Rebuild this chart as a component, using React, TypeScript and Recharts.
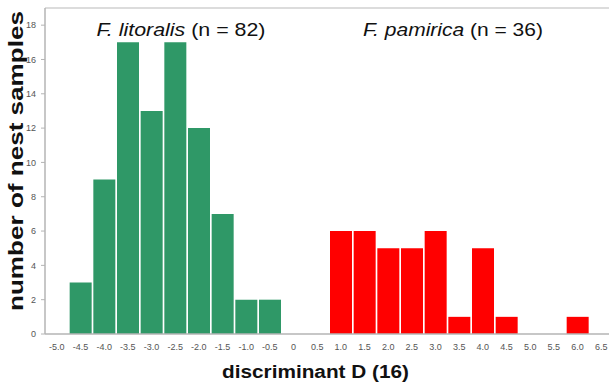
import React from 'react';
import { BarChart, Bar, XAxis, YAxis, ReferenceLine } from 'recharts';

const categories = ["-5.0","-4.5","-4.0","-3.5","-3.0","-2.5","-2.0","-1.5","-1.0","-0.5","0","0.5","1.0","1.5","2.0","2.5","3.0","3.5","4.0","4.5","5.0","5.5","6.0","6.5"];
const litoralisCounts = [0,3,9,17,13,17,12,7,2,2,0,0,0,0,0,0,0,0,0,0,0,0,0,0];
const pamiricaCounts = [0,0,0,0,0,0,0,0,0,0,0,0,6,6,5,5,6,1,5,1,0,0,1,0];
const yTicks = [0,2,4,6,8,10,12,14,16,18];

const data = categories.map((c, i) => ({ d: c, litoralis: litoralisCounts[i], pamirica: pamiricaCounts[i] }));

const FONT = "'Liberation Sans', Arial, sans-serif";
const GREEN = "#2f9867";
const RED = "#ff0000";
const AXIS = "#b4b4b4";

export default function App() {
  return (
    <div style={{ position: 'absolute', left: 0, top: 0, width: 609, height: 385, overflow: 'hidden', background: '#fff' }}>
      <BarChart
        width={613}
        height={385}
        data={data}
        margin={{ top: 8, right: 0, bottom: 0, left: 0 }}
        barCategoryGap={1}
        style={{ fontFamily: FONT }}
      >
        <XAxis
          dataKey="d"
          height={51}
          interval={0}
          tickLine={false}
          tickMargin={4}
          axisLine={{ stroke: AXIS, strokeWidth: 1.5 }}
          tick={{ fontSize: 9, fill: '#555', fontFamily: FONT }}
        />
        <YAxis
          width={45}
          domain={[0, 19]}
          ticks={yTicks}
          allowDataOverflow
          tickSize={4}
          tickMargin={5}
          axisLine={{ stroke: AXIS, strokeWidth: 1.5 }}
          tickLine={{ stroke: AXIS }}
          tick={{ fontSize: 9, fill: '#555', fontFamily: FONT }}
        />
        <ReferenceLine y={19} stroke="#d0d0d0" strokeWidth={1.5} />
        <Bar dataKey="litoralis" stackId="a" fill={GREEN} isAnimationActive={false} />
        <Bar dataKey="pamirica" stackId="a" fill={RED} isAnimationActive={false} />
        <text x={181} y={36} textAnchor="middle" fontSize={18.5} fill="#111" fontFamily={FONT} textLength={169} lengthAdjust="spacingAndGlyphs">
          <tspan fontStyle="italic">F. litoralis</tspan>
          <tspan> (n = 82)</tspan>
        </text>
        <text x={453} y={36} textAnchor="middle" fontSize={18.5} fill="#111" fontFamily={FONT} textLength={180} lengthAdjust="spacingAndGlyphs">
          <tspan fontStyle="italic">F. pamirica</tspan>
          <tspan> (n = 36)</tspan>
        </text>
        <text x={315.5} y={378} textAnchor="middle" fontSize={18} fontWeight="bold" fill="#111" fontFamily={FONT} textLength={187} lengthAdjust="spacingAndGlyphs">
          discriminant D (16)
        </text>
        <text x={16} y={161} textAnchor="middle" dominantBaseline="central" transform="rotate(-90 16 161)" fontSize={20} fontWeight="bold" fill="#111" fontFamily={FONT} textLength={300} lengthAdjust="spacingAndGlyphs">
          number of nest samples
        </text>
      </BarChart>
    </div>
  );
}
